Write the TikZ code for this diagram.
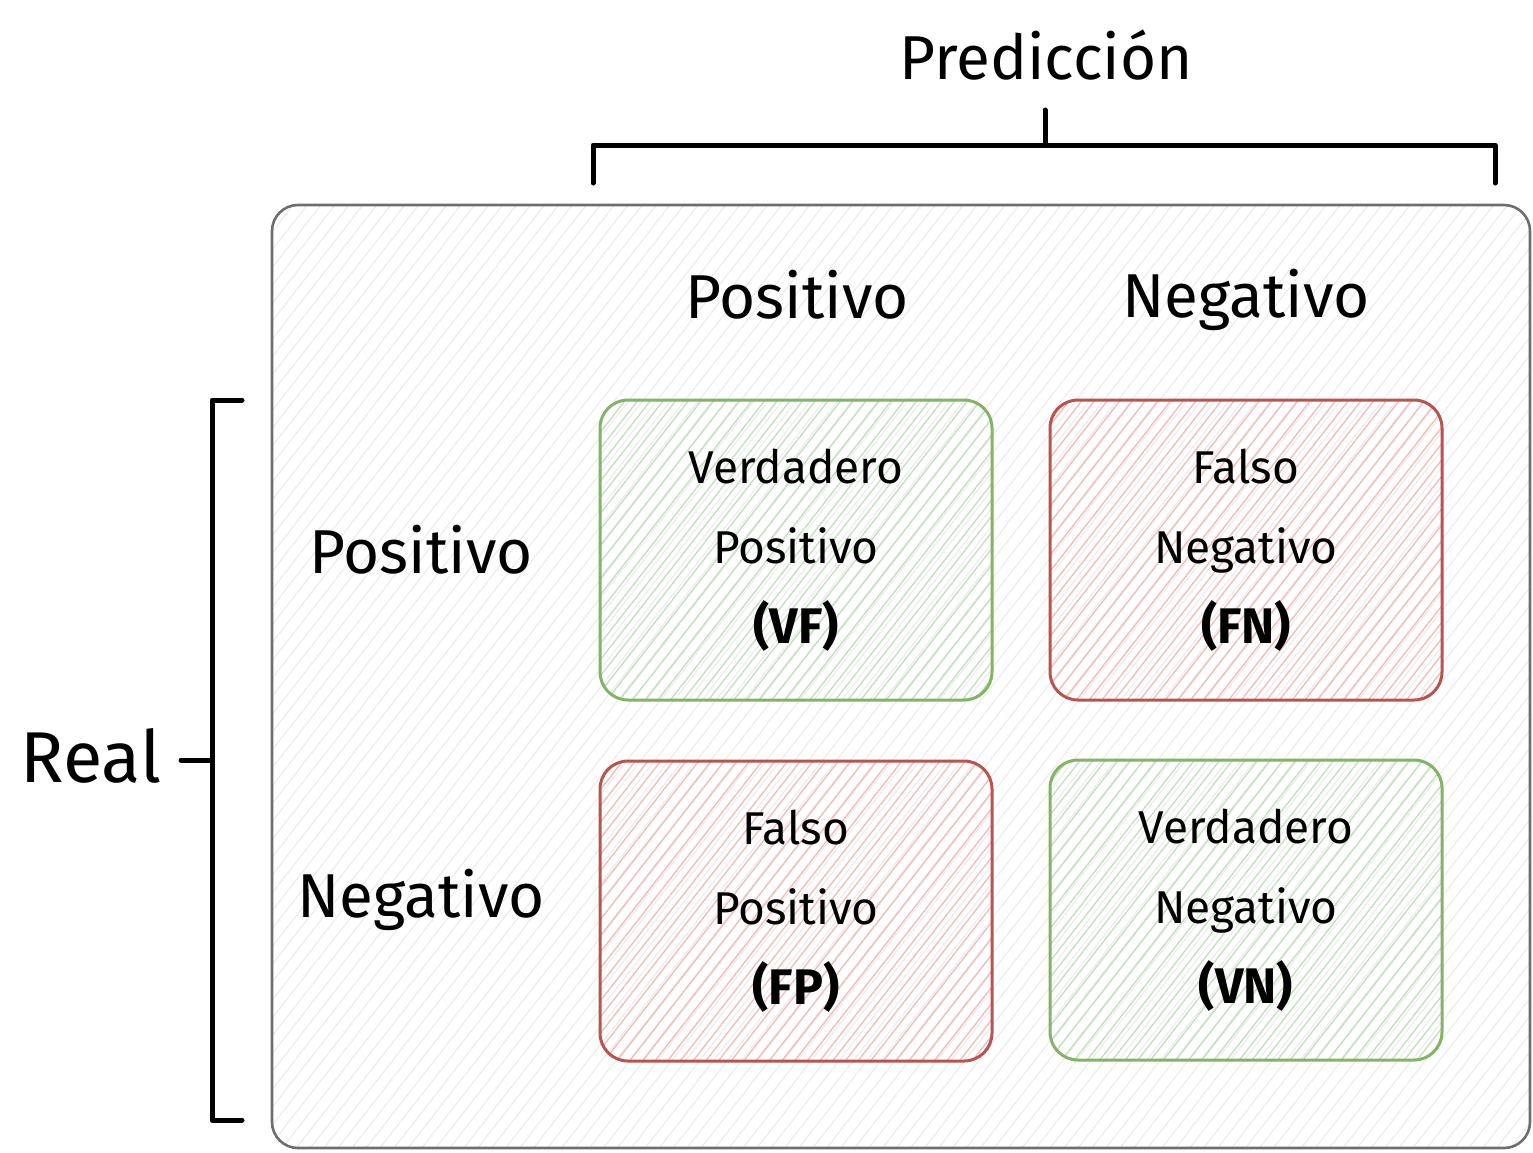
\documentclass[tikz,border=0pt]{standalone}
\usepackage{fontspec}
\setmainfont{Fira Sans}
\usetikzlibrary{patterns.meta}
\definecolor{outerline}{HTML}{6E6E6E}
\definecolor{outerhatch}{HTML}{EBEBEB}
\definecolor{gline}{HTML}{82B366}
\definecolor{ghatch}{HTML}{C4E0C1}
\definecolor{rline}{HTML}{B85450}
\definecolor{rhatch}{HTML}{F3BDBB}
\newcommand{\bigab}[1]{{\fontsize{50}{80}\selectfont\bfseries #1}}
\tikzset{
  bigtxt/.style={font=\fontsize{62}{66}\selectfont, text=black},
  celltxt/.style={font=\fontsize{46}{80}\selectfont, align=center, text=black},
  cellbox/.style={rectangle, rounded corners=28pt, line width=3pt,
     minimum width=392pt, minimum height=300pt, inner sep=0pt},
  greencell/.style={cellbox, draw=gline,
     pattern={Lines[angle=52,distance=10pt,line width=1.4pt]}, pattern color=ghatch},
  redcell/.style={cellbox, draw=rline,
     pattern={Lines[angle=52,distance=10pt,line width=1.4pt]}, pattern color=rhatch},
  bracket/.style={line width=5pt, line cap=round, line join=round, draw=black},
}
\begin{document}
\begin{tikzpicture}[x=1pt,y=-1pt]
\useasboundingbox (0,0) rectangle (1533,1152);
% outer frame
\node[rectangle, rounded corners=26pt, draw=outerline, line width=2.6pt,
  minimum width=1258pt, minimum height=943pt, inner sep=0pt,
  pattern={Lines[angle=52,distance=11pt,line width=1.1pt]}, pattern color=outerhatch]
  (frame) at (901,676.5) {};
% title and brace
\node[bigtxt] (pred) at (1046,55) {Predicción};
\coordinate (bl) at (593,183);
\coordinate (bla) at (593,145);
\coordinate (bra) at (1495,145);
\coordinate (br) at (1495,183);
\coordinate (bm) at (1045,145);
\coordinate (bt) at (1045,110);
\draw[bracket] (bl) -- (bla) -- (bra) -- (br);
\draw[bracket] (bm) -- (bt);
% left bracket
\coordinate (lt) at (242,400);
\coordinate (lta) at (212,400);
\coordinate (lba) at (212,1120);
\coordinate (lb) at (242,1120);
\coordinate (lm) at (212,760);
\coordinate (lmo) at (181,760);
\draw[bracket] (lt) -- (lta) -- (lba) -- (lb);
\draw[bracket] (lm) -- (lmo);
\node[bigtxt, font=\fontsize{72}{76}\selectfont] (real) at (91,756) {Real};
% headers
\node[bigtxt] (cpos) at (797,295) {Positivo};
\node[bigtxt] (cneg) at (1246,300) {Negativo};
\node[bigtxt] (rpos) at (421,550) {Positivo};
\node[bigtxt] (rneg) at (421,900) {Negativo};
% cells
\node[greencell] (vp) at (796,550) {};
\node[celltxt] (vpt) at (vp.center) {Verdadero\\Positivo\\\bigab{(VF)}};
\node[redcell] (fn) at (1246,550) {};
\node[celltxt] (fnt) at (fn.center) {Falso\\Negativo\\\bigab{(FN)}};
\node[redcell] (fp) at (796,911) {};
\node[celltxt] (fpt) at (fp.center) {Falso\\Positivo\\\bigab{(FP)}};
\node[greencell] (vn) at (1246,910) {};
\node[celltxt] (vnt) at (vn.center) {Verdadero\\Negativo\\\bigab{(VN)}};
\end{tikzpicture}
\end{document}
